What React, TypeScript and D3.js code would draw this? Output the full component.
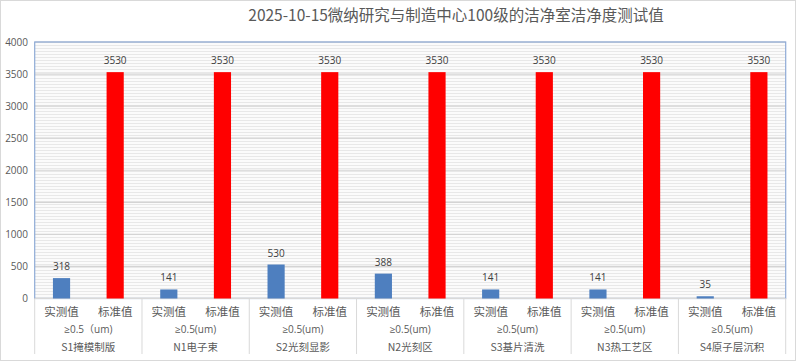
import React from "react";
import * as d3 from "d3";

const title = "2025-10-15微纳研究与制造中心100级的洁净室洁净度测试值";
const locations = ["S1掩模制版", "N1电子束", "S2光刻显影", "N2光刻区", "S3基片清洗", "N3热工艺区", "S4原子层沉积"];
const sizeLabels = ["≥0.5（um)", "≥0.5(um)", "≥0.5(um)", "≥0.5(um)", "≥0.5(um)", "≥0.5(um)", "≥0.5(um)"];
const seriesNames = ["实测值", "标准值"];
const measured = [318, 141, 530, 388, 141, 141, 35];
const standard = [3530, 3530, 3530, 3530, 3530, 3530, 3530];
const yTicks = [0, 500, 1000, 1500, 2000, 2500, 3000, 3500, 4000];
const seriesColors = ["#4e7fbf", "#ff0000"];

const W = 798, H = 362;
const L = 34.7, R = 785.7, T = 42, B = 298.5;

export default function App() {
  const y = d3.scaleLinear().domain([0, 4000]).range([B, T]);
  const x = d3.scaleBand<number>().domain(d3.range(locations.length)).range([L, R]);
  const sub = d3.scaleBand<number>().domain([0, 1]).range([0, x.bandwidth()]).paddingInner(0.68).paddingOuter(0.34);
  const values = [measured, standard];
  const txt = "#595959";
  const font = "'Noto Sans CJK SC', 'Noto Sans', sans-serif";
  const latin = "'Open Sans', 'Noto Sans', 'Noto Sans CJK SC', sans-serif";
  return (
    <div style={{ position: "fixed", left: 0, top: 0 }}>
      <svg width={W} height={H} style={{ display: "block" }} fontFamily={font}>
        <defs>
          <pattern id="stripes" width="4" height="3" patternUnits="userSpaceOnUse">
            <rect width="4" height="3" fill="#fbfbfb" />
            <rect y="0" width="4" height="1" fill="#e8e8e8" />
          </pattern>
        </defs>
        <rect x={0} y={0} width={W} height={H} fill="#ffffff" />
        <rect x={0.5} y={0.5} width={W - 3} height={H - 2} fill="none" stroke="#d9d9d9" />
        <text x={456} y={21} textAnchor="middle" fontSize={15.5} fill={txt}>{title}</text>
        <rect x={L} y={T} width={R - L} height={B - T} fill="url(#stripes)" />
        {yTicks.map((t) => (
          <g key={t}>
            <line x1={L} x2={R} y1={y(t)} y2={y(t)} stroke="#d4d4d4" strokeWidth={1.2} />
            <text x={28} y={y(t) + 3.5} textAnchor="end" fontSize={10} fontFamily={latin} fill={txt}>{t}</text>
          </g>
        ))}
        <rect x={L} y={T} width={R - L} height={B - T} fill="none" stroke="#8eaad6" strokeWidth={1.2} />
        <line x1={L} x2={R} y1={B} y2={B} stroke="#d9d9d9" />
        {d3.range(locations.length + 1).map((i) => {
          const xx = i < locations.length ? x(i)! : R;
          return <line key={i} x1={xx} x2={xx} y1={B} y2={354} stroke="#d9d9d9" />;
        })}
        {locations.map((loc, i) => (
          <g key={loc}>
            {values.map((vals, s) => {
              const bx = x(i)! + sub(s)!;
              return (
                <g key={s}>
                  <rect x={bx} y={y(vals[i])} width={sub.bandwidth()} height={B - y(vals[i])} fill={seriesColors[s]} />
                  <text x={bx + sub.bandwidth() / 2} y={y(vals[i]) - 8} textAnchor="middle" fontSize={10} fontFamily={latin} fill="#404040">{vals[i]}</text>
                  <text x={bx + sub.bandwidth() / 2} y={316} textAnchor="middle" fontSize={11.5} fill={txt}>{seriesNames[s]}</text>
                </g>
              );
            })}
            <text x={x(i)! + x.bandwidth() / 2} y={333} textAnchor="middle" fontSize={10} fontFamily={latin} fill={txt}>{sizeLabels[i]}</text>
            <text x={x(i)! + x.bandwidth() / 2} y={351} textAnchor="middle" fontSize={10.5} fill={txt}>{loc}</text>
          </g>
        ))}
      </svg>
    </div>
  );
}
